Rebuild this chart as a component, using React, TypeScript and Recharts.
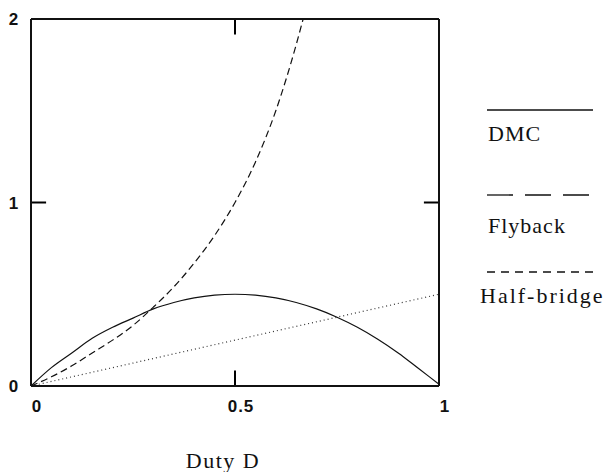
import React from "react";
import { LineChart, Line, XAxis, YAxis, ReferenceLine } from "recharts";

// duty ratio samples and conversion ratios
const duty = [0, 0.05, 0.1, 0.15, 0.2, 0.25, 0.3, 0.35, 0.4, 0.45, 0.5, 0.55, 0.6, 0.65, 0.7, 0.75, 0.8, 0.85, 0.9, 0.95, 1];
const dmc = [0, 0.1, 0.18, 0.26, 0.32, 0.37, 0.42, 0.455, 0.48, 0.495, 0.5, 0.495, 0.48, 0.455, 0.42, 0.375, 0.32, 0.255, 0.18, 0.095, 0.01];

const flybackDuty = [0, 0.05, 0.1, 0.15, 0.2, 0.25, 0.3, 0.35, 0.4, 0.45, 0.5, 0.55, 0.6, 0.65, 0.667];
const flyback = [0, 0.05, 0.11, 0.18, 0.25, 0.33, 0.43, 0.54, 0.67, 0.82, 1.0, 1.22, 1.5, 1.86, 2.0];

const halfDuty = [0, 0.25, 0.5, 0.75, 1];
const halfBridge = [0, 0.125, 0.25, 0.375, 0.5];

const xTicks = [0, 0.5, 1];
const yTicks = [0, 1, 2];
const seriesNames = ["DMC", "Flyback", "Half-bridge"];

const dmcData = duty.map((d, i) => ({ d, v: dmc[i] }));
const flybackData = flybackDuty.map((d, i) => ({ d, v: flyback[i] }));
const halfData = halfDuty.map((d, i) => ({ d, v: halfBridge[i] }));

const ink = "#111";
const tickFont = { fontFamily: "'Liberation Sans', Arial, sans-serif", fontWeight: 700, fontSize: 17, letterSpacing: 1 };
const serif = "'Liberation Serif', 'Times New Roman', serif";

// inner tick marks, as a fraction of the axis span (about 15px)
const xTickLen = 0.037;
const yTickLen = 0.085;

const BottomTick = (props: any) => {
  const { x, y, payload } = props;
  return (
    <text x={x + 6} y={y + 26} textAnchor="middle" fill={ink} style={tickFont}>
      {payload.value}
    </text>
  );
};

const LeftTick = (props: any) => {
  const { y, payload } = props;
  return (
    <text x={14} y={y + 6} textAnchor="middle" fill={ink} style={tickFont}>
      {payload.value}
    </text>
  );
};

const legendDash = ["", "26 12", "8 6"];
const legendRows = [
  { lineY: 15, textY: 46, textX: 8 },
  { lineY: 100, textY: 138, textX: 8 },
  { lineY: 177, textY: 208, textX: 0 },
];

const LegendBox = () => (
  <svg width={126} height={220} style={{ position: "absolute", left: 480, top: 95 }}>
    {seriesNames.map((name, i) => (
      <g key={name}>
        <line
          x1={7}
          x2={113}
          y1={legendRows[i].lineY}
          y2={legendRows[i].lineY}
          stroke={ink}
          strokeWidth={1.3}
          strokeDasharray={legendDash[i] || undefined}
        />
        <text
          x={legendRows[i].textX}
          y={legendRows[i].textY}
          fill={ink}
          style={{ fontFamily: serif, fontSize: 22, letterSpacing: i === 2 ? 2 : 1 }}
        >
          {name}
        </text>
      </g>
    ))}
  </svg>
);

const midX = xTicks[1];
const midY = yTicks[1];
const innerTicks = [
  [{ x: midX, y: yTicks[0] }, { x: midX, y: yTicks[0] + yTickLen }],
  [{ x: midX, y: yTicks[2] }, { x: midX, y: yTicks[2] - yTickLen }],
  [{ x: xTicks[0], y: midY }, { x: xTicks[0] + xTickLen, y: midY }],
  [{ x: xTicks[2], y: midY }, { x: xTicks[2] - xTickLen, y: midY }],
];

export default function App() {
  return (
    <div style={{ position: "absolute", left: 0, top: 0, width: 606, height: 472, background: "#fff" }}>
      <LineChart width={606} height={472} margin={{ top: 18, right: 166, bottom: 0, left: 0 }}>
        <XAxis
          xAxisId="bottom"
          type="number"
          dataKey="d"
          domain={[0, 1]}
          ticks={xTicks}
          interval={0}
          height={86}
          tickSize={0}
          tickMargin={0}
          tickLine={false}
          axisLine={{ stroke: ink, strokeWidth: 2 }}
          tick={BottomTick}
          label={() => (
            <text x={223} y={468} textAnchor="middle" fill={ink} style={{ fontFamily: serif, fontSize: 22, letterSpacing: 1.5 }}>
              Duty D
            </text>
          )}
        />
        <XAxis
          xAxisId="top"
          orientation="top"
          type="number"
          dataKey="d"
          domain={[0, 1]}
          height={1}
          tick={false}
          tickLine={false}
          axisLine={{ stroke: ink, strokeWidth: 2 }}
        />
        <YAxis
          yAxisId="left"
          type="number"
          domain={[0, 2]}
          ticks={yTicks}
          interval={0}
          width={31}
          tickSize={0}
          tickMargin={0}
          tickLine={false}
          axisLine={{ stroke: ink, strokeWidth: 2 }}
          tick={LeftTick}
        />
        <YAxis
          yAxisId="right"
          orientation="right"
          type="number"
          domain={[0, 2]}
          width={1}
          tick={false}
          tickLine={false}
          axisLine={{ stroke: ink, strokeWidth: 2 }}
        />
        <Line
          xAxisId="bottom"
          yAxisId="left"
          data={dmcData}
          dataKey="v"
          name="DMC"
          type="monotone"
          stroke={ink}
          strokeWidth={1.2}
          dot={false}
          isAnimationActive={false}
        />
        <Line
          xAxisId="bottom"
          yAxisId="left"
          data={flybackData}
          dataKey="v"
          name="Flyback"
          type="monotone"
          stroke={ink}
          strokeWidth={1.2}
          strokeDasharray="7 4"
          dot={false}
          isAnimationActive={false}
        />
        <Line
          xAxisId="bottom"
          yAxisId="left"
          data={halfData}
          dataKey="v"
          name="Half-bridge"
          type="linear"
          stroke="#333"
          strokeWidth={1.2}
          strokeDasharray="1 3"
          dot={false}
          isAnimationActive={false}
        />
        {innerTicks.map((seg, i) => (
          <ReferenceLine
            key={i}
            xAxisId="bottom"
            yAxisId="left"
            segment={seg}
            stroke="#000"
            strokeWidth={2}
            ifOverflow="visible"
          />
        ))}
      </LineChart>
      <LegendBox />
    </div>
  );
}
